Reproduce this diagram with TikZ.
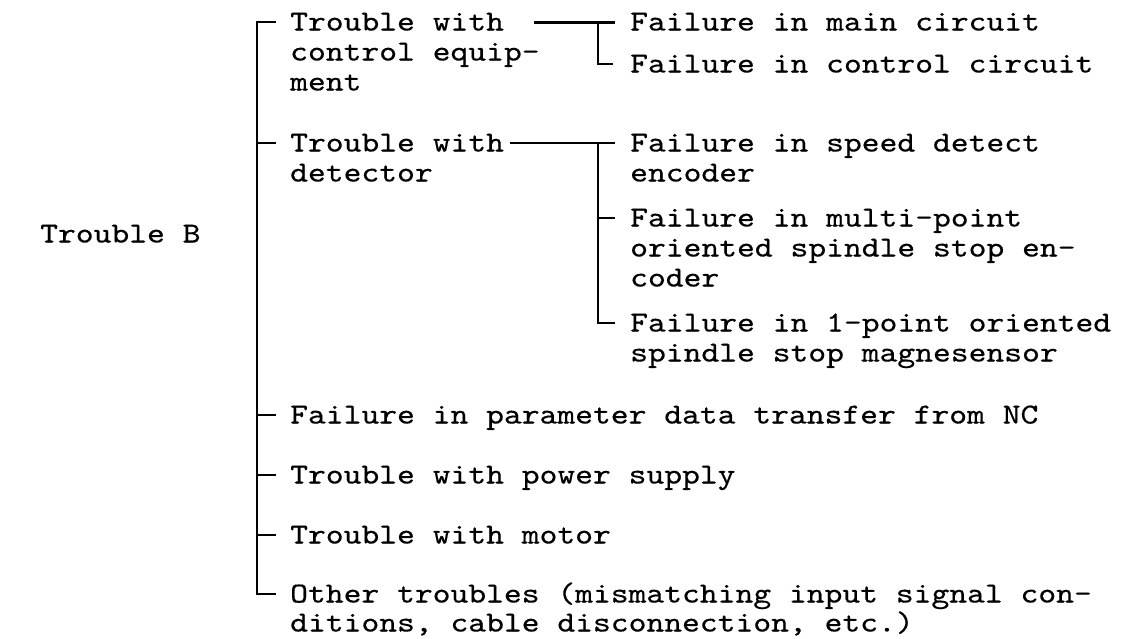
\documentclass[tikz,border=0pt]{standalone}
\usepackage{fontspec}
\newfontfamily\typewriter[FakeStretch=1.17,FakeBold=0.4]{lmmono10-regular.otf}
\begin{document}
\begin{tikzpicture}[x=1pt,y=-1pt,
  lbl/.style={font=\fontsize{29}{30}\selectfont\typewriter, inner sep=0pt,
              text height=17pt, text depth=0pt, anchor=west},
  ln/.style={line width=2pt, line cap=butt, line join=miter},
  heavy/.style={line width=3pt, line cap=butt}]
\fill[white] (0,0) rectangle (1140,638);
\useasboundingbox (0,0) rectangle (1140,638);

% root
\node[lbl] (tb) at (40,234) {Trouble B};

% first level
\node[lbl] (ce1) at (290,22) {Trouble with};
\node[lbl] (ce2) at (290,52) {control equip-};
\node[lbl] (ce3) at (290,82) {ment};
\node[lbl] (de1) at (290,143) {Trouble with};
\node[lbl] (de2) at (290,173) {detector};
\node[lbl] (pd)  at (290,415) {Failure in parameter data transfer from NC};
\node[lbl] (ps)  at (290,475) {Trouble with power supply};
\node[lbl] (mo)  at (290,535) {Trouble with motor};
\node[lbl] (ot1) at (290,594) {Other troubles (mismatching input signal con-};
\node[lbl] (ot2) at (290,623) {ditions, cable disconnection, etc.)};

% second level, control equipment
\node[lbl] (m1) at (630,22) {Failure in main circuit};
\node[lbl] (m2) at (630,64) {Failure in control circuit};

% second level, detector
\node[lbl] (s1)  at (630,143) {Failure in speed detect};
\node[lbl] (s2)  at (630,173) {encoder};
\node[lbl] (mp1) at (630,218) {Failure in multi-point};
\node[lbl] (mp2) at (630,248) {oriented spindle stop en-};
\node[lbl] (mp3) at (630,278) {coder};
\node[lbl] (op1) at (630,323) {Failure in 1-point oriented};
\node[lbl] (op2) at (630,353) {spindle stop magnesensor};

% trunk
\draw[ln] ([xshift=-14pt]ce1.west) -- ([xshift=-33pt]ce1.west)
          -- ([xshift=-33pt]ot1.west) -- ([xshift=-14pt]ot1.west);
\foreach \n in {de1,pd,ps,mo}
  \draw[ln] ([xshift=-14pt]\n.west) -- ([xshift=-33pt]\n.west);

% control equipment branch
\draw[heavy] ([xshift=30pt]ce1.east) -- ([xshift=-15pt]m1.west);
\draw[ln] ([xshift=-32pt]m1.west) -- ([xshift=-32pt]m2.west) -- ([xshift=-17pt]m2.west);

% detector branch
\draw[ln] ([xshift=6pt]de1.east) -- ([xshift=-15pt]s1.west);
\draw[ln] ([xshift=-32pt]s1.west) -- ([xshift=-32pt]op1.west) -- ([xshift=-15pt]op1.west);
\draw[ln] ([xshift=-32pt]mp1.west) -- ([xshift=-15pt]mp1.west);
\end{tikzpicture}
\end{document}
